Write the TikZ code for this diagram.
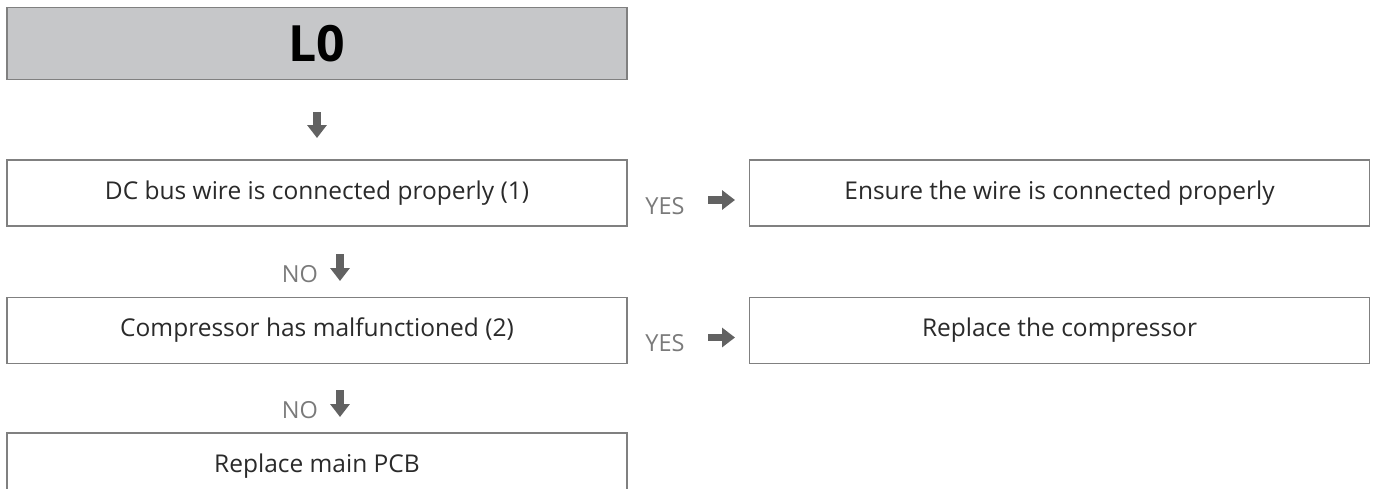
\documentclass[tikz,border=0pt]{standalone}
\usepackage{fontspec}
\setmainfont{Open Sans}
\usetikzlibrary{arrows.meta}
\definecolor{hdrfill}{HTML}{C6C7C9}
\definecolor{boxline}{HTML}{808080}
\definecolor{txt}{HTML}{2A2A2A}
\definecolor{lbl}{HTML}{7A7A7A}
\definecolor{arr}{HTML}{626262}
\tikzset{
  box/.style={draw=boxline, line width=1.6pt, fill=white, minimum width=620pt, minimum height=66pt, inner sep=0pt, anchor=center, font=\fontsize{24.5}{28}\selectfont, text=txt},
  hdr/.style={box, fill=hdrfill, minimum height=72pt, font=\bfseries\fontsize{50}{56}\selectfont, text=black},
  lab/.style={font=\fontsize{23.5}{28}\selectfont, text=lbl, inner sep=0pt, anchor=center},
  blockarrow/.style={draw=arr, line width=7.5pt, -{Triangle[length=13pt,width=19pt]}},
}
\begin{document}
\begin{tikzpicture}[x=1pt,y=-1pt]
\useasboundingbox (0,0) rectangle (1375,488);
\clip (0,0) rectangle (1375,488);
\node[hdr] (h) at (317,43.5) {\raisebox{-3.5pt}{L0}};
\node[box] (b1) at (317,193) {\raisebox{-3.5pt}{DC bus wire is connected properly (1)}};
\node[box] (r1) at (1059.5,193) {\raisebox{-3.5pt}{Ensure the wire is connected properly}};
\node[box] (b2) at (317,330.5) {\raisebox{-3.5pt}{Compressor has malfunctioned (2)}};
\node[box] (r2) at (1059.5,330.5) {\raisebox{-3.5pt}{Replace the compressor}};
\node[box] (b3) at (317,466) {\raisebox{-1pt}{Replace main PCB}};
% header arrow
\coordinate (a0s) at (317,112);
\coordinate (a0e) at (317,138);
\draw[blockarrow] (a0s) -- (a0e);
% YES row 1
\node[lab] (y1) at (665,206) {YES};
\coordinate (y1s) at (708,200);
\coordinate (y1e) at (735,200);
\draw[blockarrow] (y1s) -- (y1e);
% NO 1
\node[lab] (n1) at (300,274) {NO};
\coordinate (n1s) at (340,254);
\coordinate (n1e) at (340,281);
\draw[blockarrow] (n1s) -- (n1e);
% YES row 2
\node[lab] (y2) at (665,343.5) {YES};
\coordinate (y2s) at (708,337.5);
\coordinate (y2e) at (735,337.5);
\draw[blockarrow] (y2s) -- (y2e);
% NO 2
\node[lab] (n2) at (300,410) {NO};
\coordinate (n2s) at (340,390);
\coordinate (n2e) at (340,417);
\draw[blockarrow] (n2s) -- (n2e);
\end{tikzpicture}
\end{document}
